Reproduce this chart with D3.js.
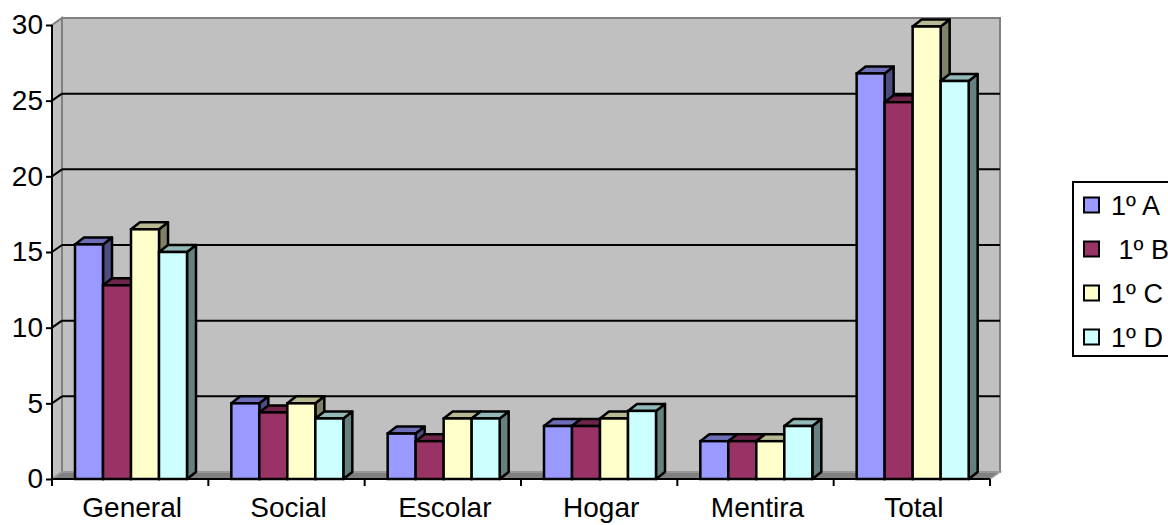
<!DOCTYPE html>
<html><head><meta charset="utf-8">
<script src="https://cdn.jsdelivr.net/npm/d3@7"></script>
<style>body{margin:0;background:#fff}svg{display:block}text{font-family:"Liberation Sans",Arial,sans-serif}</style>
</head><body><svg id="c" width="1168" height="525"></svg>
<script>
const categories = ["General","Social","Escolar","Hogar","Mentira","Total"];
const seriesNames = ["1º A"," 1º B","1º C","1º D"];
const serieA = [15.5, 5.0, 3.0, 3.5, 2.5, 26.8];
const serieB = [12.8, 4.4, 2.5, 3.5, 2.5, 24.9];
const serieC = [16.5, 5.0, 4.0, 4.0, 2.5, 29.9];
const serieD = [15.0, 4.0, 4.0, 4.5, 3.5, 26.3];
const yTicks = [0,5,10,15,20,25,30];
const colors = ["#9999FF","#993366","#FFFFCC","#CCFFFF"];
const values = [serieA, serieB, serieC, serieD];

const svg = d3.select("#c");
const x = d3.scaleBand().domain(categories).range([52, 990]).padding(0);
const xs = d3.scaleBand().domain(d3.range(4)).range([23, 135]).padding(0);
const y = d3.scaleLinear().domain([0,30]).range([479,25]);
const DX = 10, DY = -7, BDX = 9, BDY = -7;
const x0 = 52, x1 = 990;

// back wall
svg.append("rect").attr("x", x0+DX).attr("y", y(30)+DY).attr("width", x1-x0).attr("height", y(0)-y(30))
  .attr("fill","#C0C0C0").attr("stroke","#808080").attr("stroke-width",2);
// side wall
svg.append("path").attr("d", `M${x0},${y(30)}L${x0+DX},${y(30)+DY}L${x0+DX},${y(0)+DY}L${x0},${y(0)}Z`)
  .attr("fill","#C0C0C0").attr("stroke","#808080").attr("stroke-width",2);
// gridlines
yTicks.filter(t => t>0 && t<30).forEach(t => {
  svg.append("line").attr("x1", x0+DX).attr("x2", x1+DX).attr("y1", y(t)+DY).attr("y2", y(t)+DY)
    .attr("stroke","#000").attr("stroke-width",2);
  svg.append("line").attr("x1", x0).attr("x2", x0+DX).attr("y1", y(t)).attr("y2", y(t)+DY)
    .attr("stroke","#000").attr("stroke-width",2);
});
// floor
svg.append("path").attr("d", `M${x0},${y(0)}L${x1},${y(0)}L${x1+DX},${y(0)+DY}L${x0+DX},${y(0)+DY}Z`)
  .attr("fill","#808080").attr("stroke","#A0A0A0").attr("stroke-width",1.5);

function shade(c, k){ const o = d3.rgb(c); return d3.rgb(o.r*k, o.g*k, o.b*k).toString(); }

// bars
categories.forEach((cat, ci) => {
  values.forEach((vals, si) => {
    const v = vals[ci];
    const bx = x(cat) + xs(si), bw = xs.bandwidth();
    const top = y(v), bot = y(0);
    const g = svg.append("g");
    g.append("path").attr("d", `M${bx+bw},${top}L${bx+bw+BDX},${top+BDY}L${bx+bw+BDX},${bot+BDY}L${bx+bw},${bot}Z`)
      .attr("fill", shade(colors[si], 0.5)).attr("stroke","#000").attr("stroke-width",2.5).attr("stroke-linejoin","round");
    g.append("path").attr("d", `M${bx},${top}L${bx+BDX},${top+BDY}L${bx+bw+BDX},${top+BDY}L${bx+bw},${top}Z`)
      .attr("fill", shade(colors[si], 0.72)).attr("stroke","#000").attr("stroke-width",2.5).attr("stroke-linejoin","round");
    g.append("rect").attr("x", bx).attr("y", top).attr("width", bw).attr("height", bot-top)
      .attr("fill", colors[si]).attr("stroke","#000").attr("stroke-width",2.5);
  });
});

// y axis
const ya = svg.append("g").attr("transform", `translate(${x0},0)`)
  .call(d3.axisLeft(y).tickValues(yTicks).tickSize(6).tickPadding(3));
ya.select(".domain").attr("stroke","#000").attr("stroke-width",2).attr("d", `M0,${y(30)}V${y(0)}`);
ya.selectAll(".tick line").attr("stroke","#000").attr("stroke-width",2);
ya.selectAll(".tick text").attr("font-size",28).attr("fill","#000").attr("font-family","Liberation Sans, Arial, sans-serif");

// x axis
svg.append("line").attr("x1", x0).attr("x2", x1).attr("y1", y(0)).attr("y2", y(0)).attr("stroke","#000").attr("stroke-width",2);
const bounds = categories.map(c => x(c)).concat([x1]);
bounds.forEach(b => svg.append("line").attr("x1", b).attr("x2", b).attr("y1", y(0)).attr("y2", y(0)+7).attr("stroke","#000").attr("stroke-width",2));
categories.forEach(c => svg.append("text").attr("x", x(c)+x.bandwidth()/2+2).attr("y", 517)
  .attr("text-anchor","middle").attr("font-size",28).attr("fill","#000").text(c));

// legend
const lg = svg.append("g");
lg.append("rect").attr("x",1073).attr("y",182).attr("width",120).attr("height",174)
  .attr("fill","#fff").attr("stroke","#000").attr("stroke-width",2);
const ly = d3.scalePoint().domain(d3.range(4)).range([205, 337]);
seriesNames.forEach((n, i) => {
  lg.append("rect").attr("x",1084).attr("y", ly(i)-7.5).attr("width",15).attr("height",15)
    .attr("fill", colors[i]).attr("stroke","#000").attr("stroke-width",2);
  lg.append("text").attr("x",1111).attr("y", ly(i)+10).attr("font-size",27).attr("fill","#000")
    .attr("xml:space","preserve").style("white-space","pre").text(n);
});
</script></body></html>
